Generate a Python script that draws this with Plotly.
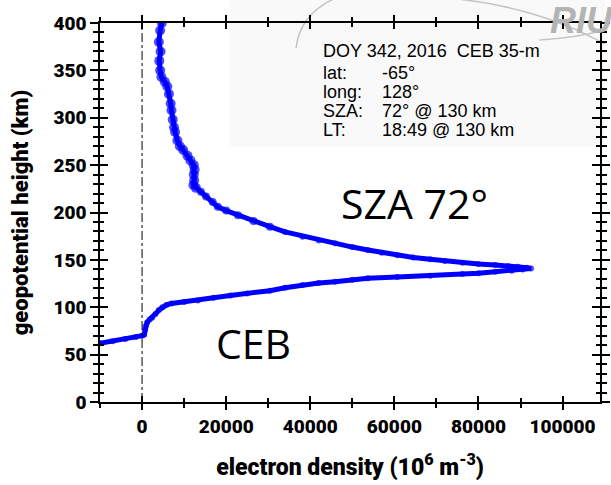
import plotly.graph_objects as go

# Electron density profile (10^6 m^-3) versus geopotential height (km)
density = [
    -10000, -7000, -4000, -1500, 0, 500, 700, 800, 1200, 1800, 2400, 3200,
    4000, 4800, 5800, 7000, 10000, 13300, 17000, 21000, 25000, 30400, 34000,
    38150, 42000, 45900, 50000, 53700, 60700, 68500, 76200, 80000, 84000,
    87900, 90500, 92500,
    91500, 89400, 87000, 84000, 80000, 76200, 72000, 68500, 64500, 60700,
    57000, 53700, 50000, 45900, 42000, 38150, 34000, 30400, 26500, 22800,
    20000, 18000, 16800, 15200, 14000, 12800, 12200, 12400, 12300, 12500,
    12300, 11500, 10800, 9800, 9000, 8400, 7850, 7600, 7300, 7000, 6800,
    6400, 6000, 5400, 4600, 4300, 4100, 4400, 4000, 4300, 4700,
]
height = [
    62, 64, 66.5, 68.5, 70, 71, 76, 80, 84, 87, 89, 93,
    97, 100, 102.5, 104, 105.5, 107, 110, 112.5, 114.5, 117.5, 120.5,
    123.5, 125.5, 127, 129, 130.5, 131.8, 133.2, 135, 136, 137.5,
    138.6, 139.8, 141,
    141.8, 142.8, 143.5, 144.6, 145.7, 147, 148.7, 150.6, 152.5, 155,
    157.5, 160.4, 163.5, 167.5, 170.5, 174.5, 179.5, 185, 191, 197,
    202, 206, 211, 217, 222, 226, 229, 234, 240, 245,
    250, 255, 260, 266, 270, 276, 285, 290, 298, 308, 315,
    325, 333, 338, 343, 350, 360, 370, 380, 392, 400,
]

x_ticks = [0, 20000, 40000, 60000, 80000, 100000]
y_ticks = [0, 50, 100, 150, 200, 250, 300, 350, 400]

info_labels = ["lat:", "long:", "SZA:", "LT:"]
info_values = ["-65°", "128°", "72° @ 130 km", "18:49 @ 130 km"]
info_header = "DOY 342, 2016  CEB 35-m"

# plot-area edges in page pixels, used to place overlay text and decoration
L, R, T, B = 100, 610, 23, 402


def px(x):
    return (x - L) / (R - L)


def py(y):
    return (B - y) / (B - T)


# the topside part of the profile is noisier, so it is drawn as a wider band
marker_sizes = [10 if h > 222 else (8 if h > 180 else 6) for h in height]

fig = go.Figure()
fig.add_trace(go.Scatter(
    x=density, y=height, mode="lines+markers",
    line=dict(color="#0000ff", width=5),
    marker=dict(color="#0000ff", size=marker_sizes, line=dict(width=0)),
    showlegend=False, hoverinfo="skip",
))
# empty trace so the overlay axes (inward half of the ticks) get drawn
fig.add_trace(go.Scatter(x=[], y=[], xaxis="x2", yaxis="y2", showlegend=False))

heavy = dict(family="Roboto", color="black", weight=900)
tick_font = dict(heavy, size=19)
xrange = [-10000, 108900]
yrange = [0, 400]

common_x = dict(range=xrange, tickvals=x_ticks, showgrid=False, zeroline=False,
                tickcolor="black", tickwidth=1.5, ticklen=6, mirror="ticks")
common_y = dict(range=yrange, tickvals=y_ticks, showgrid=False, zeroline=False,
                tickcolor="black", tickwidth=1.5, ticklen=8, mirror="ticks")

fig.update_layout(
    width=611, height=485,
    margin=dict(l=L, r=611 - R, t=T, b=485 - B),
    paper_bgcolor="white", plot_bgcolor="rgba(0,0,0,0)",
    xaxis=dict(
        **common_x, ticks="outside", showline=True, linecolor="black", linewidth=1.5,
        tickformat="d", tickfont=tick_font,
        minor=dict(dtick=10000, ticks="outside", ticklen=4, tickcolor="black", tickwidth=1.5),
        title=dict(text="electron density (10<sup>6</sup> m<sup>-3</sup>)",
                   font=dict(heavy, size=23), standoff=22),
    ),
    yaxis=dict(
        **common_y, ticks="outside", showline=True, linecolor="black", linewidth=1.5,
        tickfont=tick_font,
        minor=dict(dtick=10, ticks="outside", ticklen=5, tickcolor="black", tickwidth=1.5),
        title=dict(text="geopotential height (km)", font=dict(heavy, size=22), standoff=19),
    ),
    xaxis2=dict(**common_x, overlaying="x", anchor="y2", ticks="inside",
                showticklabels=False, showline=False,
                minor=dict(dtick=10000, ticks="inside", ticklen=4, tickcolor="black", tickwidth=1.5)),
    yaxis2=dict(**common_y, overlaying="y", anchor="x2", ticks="inside",
                showticklabels=False, showline=False,
                minor=dict(dtick=10, ticks="inside", ticklen=4, tickcolor="black", tickwidth=1.5)),
)

shapes = [
    # light panel behind the observation details
    dict(type="rect", xref="paper", yref="paper", layer="below",
         x0=px(232), x1=px(615), y0=py(147), y1=py(-5),
         fillcolor="#f9f9f9", line=dict(width=0)),
    # zero-density reference line
    dict(type="line", xref="x", yref="y", x0=0, x1=0, y0=0, y1=400,
         line=dict(color="black", width=1, dash="dashdot")),
]


def path_px(points, close=False):
    cmds = []
    for cmd, pts in points:
        coords = " ".join(f"{px(a):.4f},{py(b):.4f}" for a, b in pts)
        cmds.append(f"{cmd} {coords}")
    return " ".join(cmds) + (" Z" if close else "")


wm = "#c4c4c4"
shapes += [
    dict(type="path", xref="paper", yref="paper", layer="below",
         path=path_px([("M", [(300, 48)]), ("Q", [(304, 12), (345, -4)])]),
         line=dict(color=wm, width=1.5)),
    dict(type="path", xref="paper", yref="paper", layer="below",
         path=path_px([("M", [(455, -2)]), ("Q", [(545, 6), (615, 44)])]),
         line=dict(color=wm, width=1.5)),
    dict(type="path", xref="paper", yref="paper", layer="below",
         path=path_px([("M", [(548, 40)]), ("Q", [(585, 38), (615, 30)])]),
         line=dict(color=wm, width=1.5)),
    dict(type="path", xref="paper", yref="paper", layer="below",
         path=path_px([("M", [(544, 37), (548, 8), (552, 8), (556, 37)])], close=True),
         fillcolor="#b8b8b8", line=dict(width=0)),
]
fig.update_layout(shapes=shapes)

ann = []
ann.append(dict(text="<b><i>RIU</i></b>", xref="paper", yref="paper",
                x=px(557), y=py(20), xanchor="left", yanchor="middle",
                showarrow=False,
                font=dict(family="Arial", size=36, color="#b4b4b4")))

info_font = dict(family="Arial", size=18, color="black")
ann.append(dict(text=info_header, xref="paper", yref="paper", x=px(325), y=py(51),
                xanchor="left", yanchor="middle", showarrow=False, font=info_font))
for i, (lab, val) in enumerate(zip(info_labels, info_values)):
    yy = [73, 92, 111, 130][i]
    ann.append(dict(text=lab, xref="paper", yref="paper", x=px(325), y=py(yy),
                    xanchor="left", yanchor="middle", showarrow=False, font=info_font))
    ann.append(dict(text=val, xref="paper", yref="paper", x=px(386), y=py(yy),
                    xanchor="left", yanchor="middle", showarrow=False, font=info_font))

big_font = dict(family="Open Sans", size=41, color="black")
ann.append(dict(text="SZA 72°", xref="paper", yref="paper", x=px(344), y=py(203),
                xanchor="left", yanchor="middle", showarrow=False, font=big_font))
ann.append(dict(text="CEB", xref="paper", yref="paper", x=px(216), y=py(343),
                xanchor="left", yanchor="middle", showarrow=False, font=big_font))
fig.update_layout(annotations=ann)

fig.write_html("out.html")
